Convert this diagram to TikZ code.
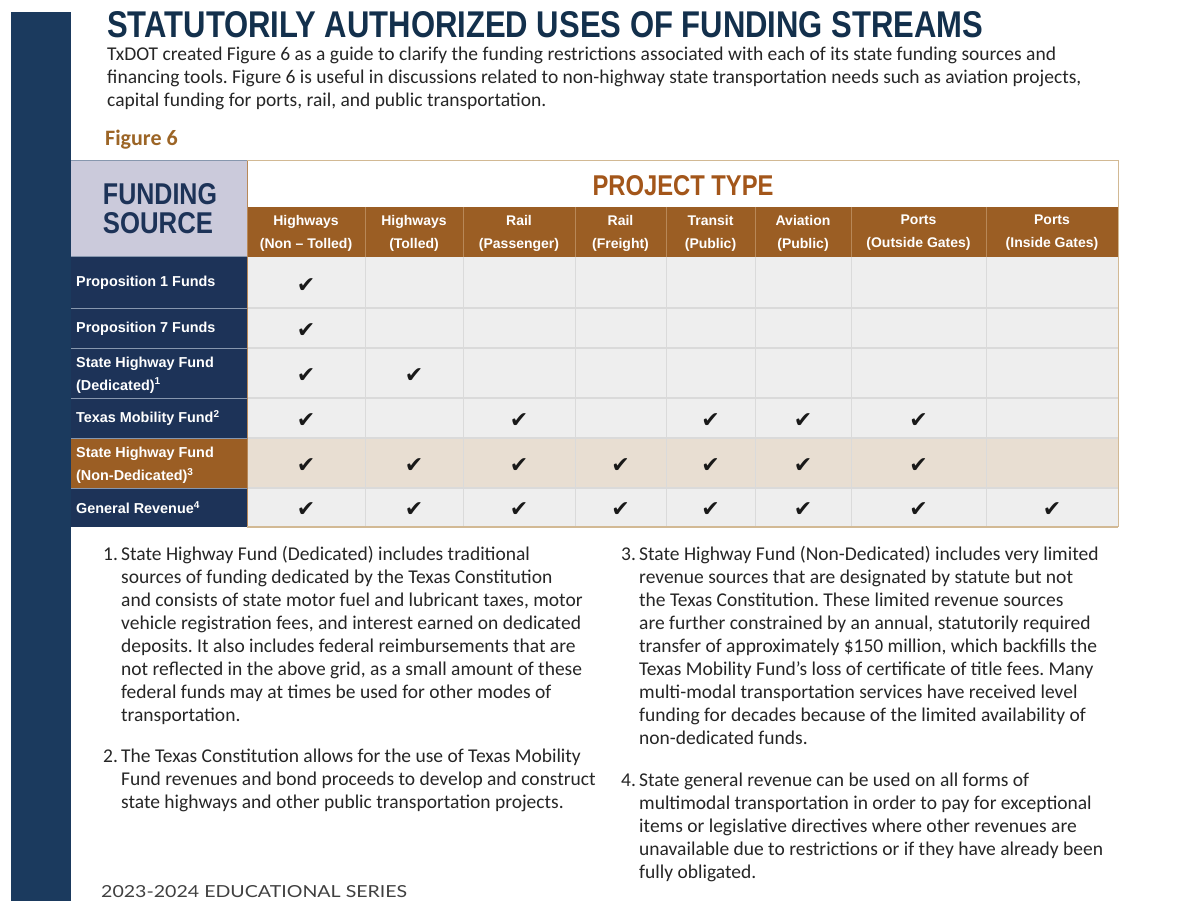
\documentclass[tikz,border=0pt]{standalone}
\usepackage{fontspec}
\usepackage{graphicx}
\setmainfont{Carlito}
\newfontfamily\hdfont{Liberation Sans}
\newfontfamily\chkfont{DejaVu Sans}
\newfontfamily\latofont{Lato}
\frenchspacing
\definecolor{barnavy}{HTML}{1B3A5E}
\definecolor{tabnavy}{HTML}{1D3358}
\definecolor{titlenavy}{HTML}{13304C}
\definecolor{lavender}{HTML}{CBCADB}
\definecolor{brownhd}{HTML}{9B5E24}
\definecolor{projbrown}{HTML}{A3561A}
\definecolor{figbrown}{HTML}{9C6526}
\definecolor{cellgray}{HTML}{EEEEEE}
\definecolor{ndrow}{HTML}{E8DED2}
\definecolor{gridgray}{HTML}{DADADA}
\definecolor{tanline}{HTML}{D2B994}
\definecolor{bodytext}{HTML}{262626}
\definecolor{sepblue}{HTML}{8797AE}
\definecolor{hdsep}{HTML}{B88858}
\tikzset{
  bodyline/.style={anchor=base west, inner sep=0pt, text=bodytext, font=\fontsize{19.5}{23}\selectfont},
  hdtext/.style={align=center, inner sep=0pt, text=white, font=\hdfont\bfseries\fontsize{14}{23}\selectfont},
  rowlabel/.style={anchor=west, align=left, inner sep=0pt, text=white, font=\hdfont\bfseries\fontsize{14.4}{23}\selectfont},
  chkmark/.style={inner sep=0pt, text=black!90, font=\chkfont\fontsize{22}{22}\selectfont},
}
\begin{document}
\begin{tikzpicture}[x=1pt,y=-1pt]
\useasboundingbox (0,0) rectangle (1177,901);
\clip (0,0) rectangle (1177,901);
\fill[white] (0,0) rectangle (1177,901);
% left bar
\fill[barnavy] (11,12) rectangle (71,901);
% title
\node[anchor=base west, inner sep=0pt, text=titlenavy] (title) at (107,38)
  {\resizebox{876pt}{26pt}{\hdfont\bfseries STATUTORILY AUTHORIZED USES OF FUNDING STREAMS}};
\node[bodyline] (intro1) at (107,61) {TxDOT created Figure 6 as a guide to clarify the funding restrictions associated with each of its state funding sources and};
\node[bodyline] (intro2) at (107,84) {financing tools. Figure 6 is useful in discussions related to non-highway state transportation needs such as aviation projects,};
\node[bodyline] (intro3) at (107,107) {capital funding for ports, rail, and public transportation.};
\node[anchor=base west, inner sep=0pt, text=figbrown, font=\bfseries\fontsize{22}{24}\selectfont] (fig) at (105,146) {Figure 6};
% table backgrounds
\fill[lavender] (71,161) rectangle (247,257);
\fill[white] (247,161) rectangle (1118,207);
\fill[brownhd] (247,207) rectangle (1118,257);
\fill[cellgray] (247,257) rectangle (1118,527);
\fill[ndrow] (247,438) rectangle (1118,488);
\fill[tabnavy] (71,257) rectangle (247,527);
\fill[brownhd] (71,438) rectangle (247,488);
% grid lines
\foreach \x in {365,463,575,666,755,851,986} {
  \draw[gridgray, line width=1pt] (\x,257) -- (\x,527);
  \draw[hdsep, line width=1pt] (\x,207) -- (\x,257);
}
\foreach \y in {308,348,398,438,488} {
  \draw[gridgray, line width=1.5pt] (247,\y) -- (1118,\y);
  \draw[sepblue, line width=1pt] (71,\y) -- (247,\y);
}
\draw[sepblue, line width=1pt] (71,161) -- (247,161);
\draw[sepblue, line width=1pt] (71,257) -- (247,257);
\draw[hdsep, line width=1pt] (247,161) -- (247,527);
\draw[tanline, line width=1pt] (247,161) -- (1118,161) -- (1118,527);
\draw[tanline, line width=1.5pt] (247,527) -- (1118,527);
% header texts
\node[inner sep=0pt, text=tabnavy] (fund) at (160,194) {\resizebox{114pt}{21pt}{\hdfont\bfseries FUNDING}};
\node[inner sep=0pt, text=tabnavy] (src) at (158,223) {\resizebox{110pt}{21pt}{\hdfont\bfseries SOURCE}};
\node[inner sep=0pt, text=projbrown] (proj) at (683,186) {\resizebox{181pt}{20pt}{\hdfont\bfseries PROJECT TYPE}};
\node[hdtext] (h1) at (306,233) {Highways\\(Non – Tolled)};
\node[hdtext] (h2) at (414,233) {Highways\\(Tolled)};
\node[hdtext] (h3) at (519,233) {Rail\\(Passenger)};
\node[hdtext] (h4) at (620.5,233) {Rail\\(Freight)};
\node[hdtext] (h5) at (710.5,233) {Transit\\(Public)};
\node[hdtext] (h6) at (803,233) {Aviation\\(Public)};
\node[hdtext] (h7) at (918.5,233) {Ports\\(Outside Gates)};
\node[hdtext] (h8) at (1052,233) {Ports\\(Inside Gates)};
% row labels
\node[rowlabel] (r1) at (76,283) {Proposition 1 Funds};
\node[rowlabel] (r2) at (76,329) {Proposition 7 Funds};
\node[rowlabel] (r3) at (76,375) {State Highway Fund\\(Dedicated)\textsuperscript{1}};
\node[rowlabel] (r4) at (76,418) {Texas Mobility Fund\textsuperscript{2}};
\node[rowlabel] (r5) at (76,465) {State Highway Fund\\(Non-Dedicated)\textsuperscript{3}};
\node[rowlabel] (r6) at (76,508) {General Revenue\textsuperscript{4}};
% check marks
\foreach \c/\x in {1/306} \node[chkmark] (k1-\c) at (\x,286) {✔};
\foreach \c/\x in {1/306} \node[chkmark] (k2-\c) at (\x,331) {✔};
\foreach \c/\x in {1/306,2/414} \node[chkmark] (k3-\c) at (\x,376) {✔};
\foreach \c/\x in {1/306,3/519,5/710.5,6/803,7/918.5} \node[chkmark] (k4-\c) at (\x,421) {✔};
\foreach \c/\x in {1/306,2/414,3/519,4/620.5,5/710.5,6/803,7/918.5} \node[chkmark] (k5-\c) at (\x,466) {✔};
\foreach \c/\x in {1/306,2/414,3/519,4/620.5,5/710.5,6/803,7/918.5,8/1052} \node[chkmark] (k6-\c) at (\x,510) {✔};
% footnotes left
\node[bodyline] (n1) at (103,560) {1.};
\node[bodyline] (f1a) at (121,560) {State Highway Fund (Dedicated) includes traditional};
\node[bodyline] (f1b) at (121,583) {sources of funding dedicated by the Texas Constitution};
\node[bodyline] (f1c) at (121,606) {and consists of state motor fuel and lubricant taxes, motor};
\node[bodyline] (f1d) at (121,629) {vehicle registration fees, and interest earned on dedicated};
\node[bodyline] (f1e) at (121,652) {deposits. It also includes federal reimbursements that are};
\node[bodyline] (f1f) at (121,675) {not reflected in the above grid, as a small amount of these};
\node[bodyline] (f1g) at (121,698) {federal funds may at times be used for other modes of};
\node[bodyline] (f1h) at (121,721) {transportation.};
\node[bodyline] (n2) at (103,762) {2.};
\node[bodyline] (f2a) at (121,762) {The Texas Constitution allows for the use of Texas Mobility};
\node[bodyline] (f2b) at (121,785) {Fund revenues and bond proceeds to develop and construct};
\node[bodyline] (f2c) at (121,808) {state highways and other public transportation projects.};
% footnotes right
\node[bodyline] (n3) at (621,560) {3.};
\node[bodyline] (f3a) at (639,560) {State Highway Fund (Non-Dedicated) includes very limited};
\node[bodyline] (f3b) at (639,583) {revenue sources that are designated by statute but not};
\node[bodyline] (f3c) at (639,606) {the Texas Constitution. These limited revenue sources};
\node[bodyline] (f3d) at (639,629) {are further constrained by an annual, statutorily required};
\node[bodyline] (f3e) at (639,652) {transfer of approximately \$150 million, which backfills the};
\node[bodyline] (f3f) at (639,675) {Texas Mobility Fund’s loss of certificate of title fees. Many};
\node[bodyline] (f3g) at (639,698) {multi-modal transportation services have received level};
\node[bodyline] (f3h) at (639,721) {funding for decades because of the limited availability of};
\node[bodyline] (f3i) at (639,744) {non-dedicated funds.};
\node[bodyline] (n4) at (621,786) {4.};
\node[bodyline] (f4a) at (639,786) {State general revenue can be used on all forms of};
\node[bodyline] (f4b) at (639,809) {multimodal transportation in order to pay for exceptional};
\node[bodyline] (f4c) at (639,832) {items or legislative directives where other revenues are};
\node[bodyline] (f4d) at (639,855) {unavailable due to restrictions or if they have already been};
\node[bodyline] (f4e) at (639,878) {fully obligated.};
% footer
\node[anchor=base west, inner sep=0pt, text=black!75] (footer) at (101,897)
  {\resizebox{306pt}{12pt}{\latofont 2023-2024 EDUCATIONAL SERIES}};
\end{tikzpicture}
\end{document}
